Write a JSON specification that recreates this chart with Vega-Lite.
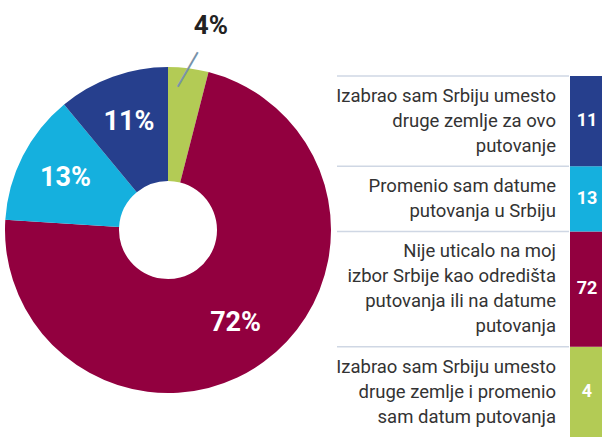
{
  "$schema": "https://vega.github.io/schema/vega-lite/v6.json",
  "padding": 0,
  "background": "white",
  "config": {
    "view": {"stroke": null},
    "concat": {"spacing": 0},
    "font": "Roboto, sans-serif"
  },
  "datasets": {
    "rows": [
      {"cat": "izbor_datum", "k": 1, "t": 4, "value": 4, "label": ["Izabrao sam Srbiju umesto", "druge zemlje i promenio", "sam datum putovanja"]},
      {"cat": "nije_uticalo", "k": 2, "t": 3, "value": 72, "label": ["Nije uticalo na moj", "izbor Srbije kao odredišta", "putovanja ili na datume", "putovanja"]},
      {"cat": "datum", "k": 3, "t": 2, "value": 13, "label": ["Promenio sam datume", "putovanja u Srbiju"]},
      {"cat": "izbor", "k": 4, "t": 1, "value": 11, "label": ["Izabrao sam Srbiju umesto", "druge zemlje za ovo", "putovanje"]}
    ]
  },
  "hconcat": [
    {
      "spacing": 0,
      "bounds": "flush",
      "vconcat": [
        {
          "width": 336,
          "height": 22,
          "data": {"values": []},
          "mark": "text"
        },
        {
          "width": 336,
          "height": 416,
          "data": {"name": "rows"},
          "transform": [
            {"stack": "value", "groupby": [], "sort": [{"field": "k", "order": "ascending"}], "as": ["s0", "s1"]},
            {"calculate": "(datum.s0 + datum.s1) / 2", "as": "mid"},
            {"calculate": "datum.value + '%'", "as": "pct"}
          ],
          "layer": [
            {
              "mark": {"type": "arc", "innerRadius": 49, "outerRadius": 163},
              "encoding": {
                "theta": {"field": "s0", "type": "quantitative", "scale": {"domain": [0, 100]}},
                "theta2": {"field": "s1"},
                "color": {"field": "cat", "type": "nominal", "legend": null,
                  "scale": {"domain": ["izbor_datum", "nije_uticalo", "datum", "izbor"], "range": ["#b3cb55", "#92003f", "#15b0de", "#263f8d"]}}
              }
            },
            {
              "transform": [{"filter": "datum.k != 1"}],
              "mark": {"type": "text", "radius": 115, "fontSize": 27, "fontWeight": "bold", "color": "white", "baseline": "middle", "align": "center"},
              "encoding": {
                "theta": {"field": "mid", "type": "quantitative"},
                "text": {"field": "pct"}
              }
            },
            {
              "transform": [{"filter": "datum.k == 1"}],
              "mark": {"type": "text", "radius": 206, "fontSize": 26, "fontWeight": "bold", "color": "#222222", "baseline": "middle", "align": "left"},
              "encoding": {
                "theta": {"field": "mid", "type": "quantitative"},
                "text": {"field": "pct"}
              }
            },
            {
              "transform": [{"filter": "datum.k == 1"}],
              "mark": {"type": "text", "radius": 163, "fontSize": 40, "font": "DejaVu Sans", "fontWeight": 200, "angle": 30, "color": "#7893aa", "baseline": "middle", "align": "center", "text": "|"},
              "encoding": {
                "theta": {"field": "mid", "type": "quantitative"}
              }
            }
          ]
        }
      ]
    },
    {
      "width": 232,
      "height": 438,
      "data": {"name": "rows"},
      "transform": [
        {"calculate": "length(datum.label) + 0.6", "as": "n"},
        {"stack": "n", "groupby": [], "sort": [{"field": "t", "order": "ascending"}], "as": ["y0", "y1"]},
        {"calculate": "datum.y0 + 0.8", "as": "yt"}
      ],
      "layer": [
        {
          "mark": {"type": "rule", "color": "#cfd7e4", "strokeWidth": 1.5},
          "encoding": {
            "y": {"field": "y0", "type": "quantitative", "axis": null, "scale": {"domain": [-3.032, 14.44], "reverse": true, "nice": false, "zero": false}}
          }
        },
        {
          "mark": {"type": "text", "align": "right", "baseline": "middle", "fontSize": 18.5, "lineHeight": 25, "color": "#333333", "dx": -13},
          "encoding": {
            "x": {"value": "width"},
            "y": {"field": "yt", "type": "quantitative", "axis": null, "scale": {"domain": [-3.032, 14.44], "reverse": true, "nice": false, "zero": false}},
            "text": {"field": "label"}
          }
        }
      ]
    },
    {
      "width": 34,
      "height": 438,
      "data": {"name": "rows"},
      "transform": [
        {"calculate": "length(datum.label) + 0.6", "as": "n"},
        {"stack": "n", "groupby": [], "sort": [{"field": "t", "order": "ascending"}], "as": ["y0", "y1"]},
        {"calculate": "(datum.y0 + datum.y1) / 2", "as": "ym"}
      ],
      "layer": [
        {
          "mark": {"type": "rect"},
          "encoding": {
            "y": {"field": "y0", "type": "quantitative", "axis": null, "scale": {"domain": [-3.032, 14.44], "reverse": true, "nice": false, "zero": false}},
            "y2": {"field": "y1"},
            "color": {"field": "cat", "type": "nominal", "legend": null,
              "scale": {"domain": ["izbor_datum", "nije_uticalo", "datum", "izbor"], "range": ["#b3cb55", "#92003f", "#15b0de", "#263f8d"]}}
          }
        },
        {
          "mark": {"type": "text", "align": "center", "baseline": "middle", "fontSize": 18, "fontWeight": "bold", "color": "white"},
          "encoding": {
            "y": {"field": "ym", "type": "quantitative", "axis": null, "scale": {"domain": [-3.032, 14.44], "reverse": true, "nice": false, "zero": false}},
            "text": {"field": "value"}
          }
        }
      ]
    }
  ]
}
